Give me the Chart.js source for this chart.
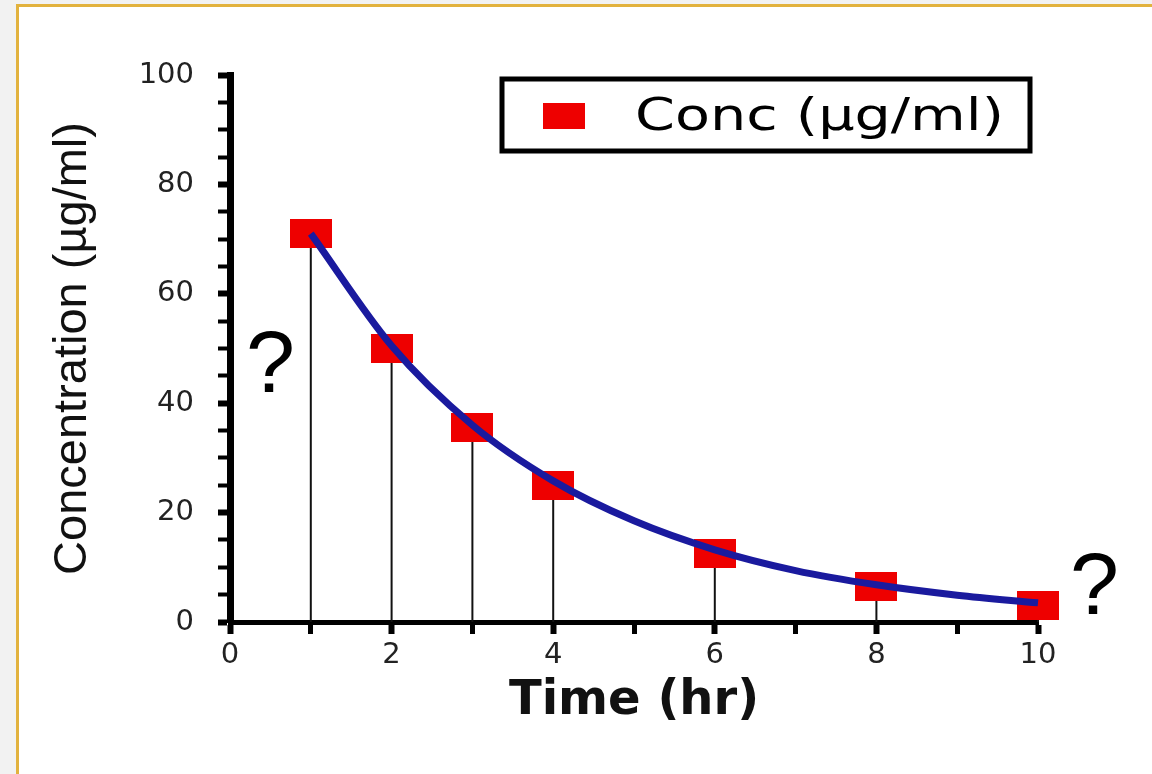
<!DOCTYPE html>
<html>
<head>
<meta charset="utf-8">
<script src="https://cdn.jsdelivr.net/npm/chart.js@4.4.1/dist/chart.umd.min.js"></script>
<style>
  html, body { margin: 0; padding: 0; }
  body { width: 1152px; height: 774px; background: #f2f2f2; position: relative; overflow: hidden; }
  #frame { position: absolute; left: 16px; top: 4px; width: 1200px; height: 800px;
           background: #fff; border-left: 3px solid #e2b23e; border-top: 3px solid #e2b23e; }
  #wrap { position: absolute; left: 0; top: 0; width: 1152px; height: 774px; }
</style>
</head>
<body>
<div id="frame"></div>
<div id="wrap"><canvas id="myChart" width="1152" height="774"></canvas></div>
<script>
// measured concentrations
const sampleTimes = [1, 2, 3, 4, 6, 8, 10];
const sampleConc = [71, 50, 35.5, 25, 12.5, 6.5, 3];
// fitted curve at each hour
const curveTimes = [1, 2, 3, 4, 5, 6, 7, 8, 9, 10];
const curveConc = [71, 50.5, 36, 25.8, 18.5, 13.2, 9.4, 6.8, 4.9, 3.5];
const xTickLabels = ["0", "2", "4", "6", "8", "10"];
const yTickLabels = ["0", "20", "40", "60", "80", "100"];

// red rectangle marker
const marker = document.createElement("canvas");
marker.width = 42;
marker.height = 29;
const mctx = marker.getContext("2d");
mctx.fillStyle = "#ee0000";
mctx.fillRect(0, 0, 42, 29);

// thin drop lines from each sample to the time axis
const dropLines = {
  id: "dropLines",
  beforeDatasetsDraw(chart) {
    const { ctx, scales } = chart;
    ctx.save();
    ctx.strokeStyle = "#111";
    ctx.lineWidth = 2;
    sampleTimes.forEach((t, i) => {
      const x = scales.x.getPixelForValue(t);
      ctx.beginPath();
      ctx.moveTo(x, scales.y.getPixelForValue(sampleConc[i]));
      ctx.lineTo(x, scales.y.getPixelForValue(0));
      ctx.stroke();
    });
    ctx.restore();
  },
};

// boxed legend and the two question marks
const extras = {
  id: "extras",
  afterDraw(chart) {
    const { ctx, scales } = chart;
    ctx.save();
    ctx.fillStyle = "#fff";
    ctx.fillRect(502, 79, 528, 72);
    ctx.lineWidth = 5;
    ctx.strokeStyle = "#000";
    ctx.strokeRect(502, 79, 528, 72);
    ctx.fillStyle = "#ee0000";
    ctx.fillRect(543, 103, 42, 26);
    ctx.fillStyle = "#000";
    ctx.font = "44px 'DejaVu Sans'";
    ctx.textBaseline = "alphabetic";
    ctx.translate(635, 130);
    ctx.scale(1.3, 1);
    ctx.fillText(chart.data.datasets[1].label, 0, 0);
    ctx.restore();

    ctx.save();
    ctx.fillStyle = "#000";
    ctx.font = "88px 'Liberation Sans'";
    ctx.textAlign = "center";
    ctx.textBaseline = "alphabetic";
    ctx.fillText("?", scales.x.getPixelForValue(0.5), scales.y.getPixelForValue(42));
    ctx.fillText("?", scales.x.getPixelForValue(10.7), scales.y.getPixelForValue(1.5));
    ctx.restore();
  },
};

const ctx = document.getElementById("myChart").getContext("2d");
const myChart = new Chart(ctx, {
  type: "scatter",
  data: {
    datasets: [
      {
        label: "fit",
        type: "line",
        data: curveTimes.map((t, i) => ({ x: t, y: curveConc[i] })),
        borderColor: "#1a1a9e",
        borderWidth: 7,
        pointRadius: 0,
        tension: 0.4,
        cubicInterpolationMode: "monotone",
        fill: false,
        clip: false,
        order: 0,
      },
      {
        label: "Conc (\u00b5g/ml)",
        data: sampleTimes.map((t, i) => ({ x: t, y: sampleConc[i] })),
        pointStyle: marker,
        pointRadius: 14,
        clip: false,
        order: 1,
      },
    ],
  },
  options: {
    responsive: false,
    animation: false,
    devicePixelRatio: 1,
    layout: { padding: { left: 0, top: 75, right: 114, bottom: 0 } },
    plugins: {
      legend: { display: false },
      tooltip: { enabled: false },
    },
    scales: {
      x: {
        type: "linear",
        min: 0,
        max: 10,
        afterFit: (scale) => { scale.height = 152; },
        border: { display: true, color: "#000", width: 5 },
        grid: {
          drawOnChartArea: false,
          drawTicks: true,
          tickLength: 12,
          tickColor: "#000",
          tickWidth: (c) => (c.tick && c.tick.value % 2 === 0 ? 6 : 5),
        },
        ticks: {
          stepSize: 1,
          autoSkip: false,
          maxRotation: 0,
          padding: 4,
          color: "#222",
          font: { family: "DejaVu Sans", size: 29 },
          callback: (v) => (v % 2 === 0 ? xTickLabels[v / 2] : ""),
        },
        title: {
          display: true,
          text: "Time (hr)",
          color: "#111",
          font: { family: "DejaVu Sans", size: 48, weight: "bold" },
          padding: { top: 0, bottom: 44 },
        },
      },
      y: {
        min: 0,
        max: 100,
        afterFit: (scale) => { scale.width = 230; },
        border: { display: true, color: "#000", width: 7 },
        grid: {
          drawOnChartArea: false,
          drawTicks: true,
          tickLength: 12,
          tickColor: "#000",
          tickWidth: (c) => (c.tick && c.tick.value % 20 === 0 ? 6 : 4),
        },
        ticks: {
          stepSize: 5,
          autoSkip: false,
          padding: 24,
          color: "#222",
          font: { family: "DejaVu Sans", size: 29 },
          callback: (v) => (v % 20 === 0 ? yTickLabels[v / 20] : ""),
        },
        title: {
          display: true,
          text: "Concentration (\u00b5g/ml)",
          color: "#111",
          font: { family: "Liberation Sans", size: 47 },
          padding: { top: 45, bottom: 0 },
        },
      },
    },
  },
  plugins: [dropLines, extras],
});
</script>
</body>
</html>
